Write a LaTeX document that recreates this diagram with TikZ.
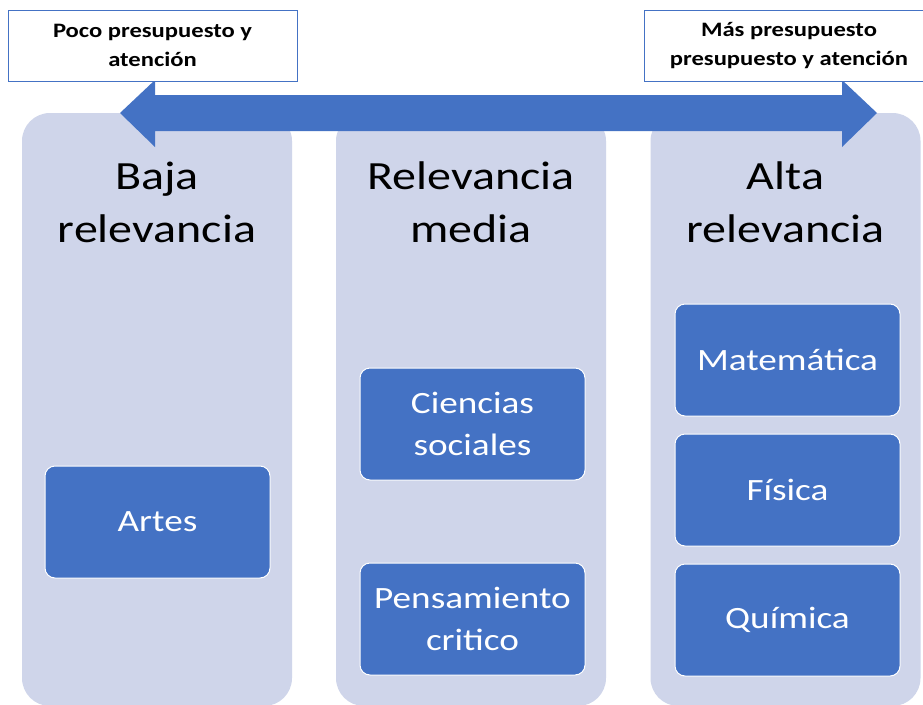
\documentclass[tikz,border=0pt]{standalone}
\usepackage{fontspec}
\setmainfont{Carlito}[FakeStretch=1.2]
\definecolor{accent}{HTML}{4472C4}
\definecolor{lanefill}{HTML}{CFD5EA}
\begin{document}
\begin{tikzpicture}[x=1pt,y=-1pt,
    column/.style={fill=lanefill, rounded corners=28pt, minimum width=270pt, minimum height=593pt},
    tag/.style={fill=white, draw=accent, line width=.8pt, minimum width=289pt, minimum height=71pt,
      align=center, font=\fontsize{20.5}{29}\selectfont\bfseries},
    head/.style={align=center, font=\fontsize{40}{53}\selectfont},
    subj/.style={fill=accent, draw=white, line width=1pt, rounded corners=10pt, minimum width=225pt,
      minimum height=112pt, text=white, align=center, font=\fontsize{31}{42}\selectfont}]
  \clip (0,0) rectangle (923,704);
  \fill[white] (0,0) rectangle (923,704);
  % the three columns
  \node[column] (baja) at (157,409.5) {};
  \node[column] (media) at (471,409.5) {};
  \node[column] (alta) at (785.5,409.5) {};
  % budget arrow
  \fill[accent] (120,113) -- (155,80) -- (155,95) -- (842,95) -- (842,80) -- (877,113)
    -- (842,147) -- (842,131) -- (155,131) -- (155,147) -- cycle;
  \node[tag] (poco) at (152.5,45.5) {Poco presupuesto y\\atención};
  \node[tag] (mas) at (789,45.5) {Más presupuesto\\presupuesto y atención};
  % column titles
  \node[head] (tbaja) at (157,202) {Baja\\relevancia};
  \node[head] (tmedia) at (471,202) {Relevancia\\media};
  \node[head] (talta) at (785.5,202) {Alta\\relevancia};
  % subjects
  \node[subj] (artes) at (157.5,522) {Artes};
  \node[subj] (ciencias) at (472.5,424) {Ciencias\\sociales};
  \node[subj] (pensamiento) at (472.5,619) {Pensamiento\\critico};
  \node[subj] (mate) at (787.5,360) {Matemática};
  \node[subj] (fisica) at (787.5,490) {Física};
  \node[subj] (quimica) at (787.5,620) {Química};
\end{tikzpicture}
\end{document}
